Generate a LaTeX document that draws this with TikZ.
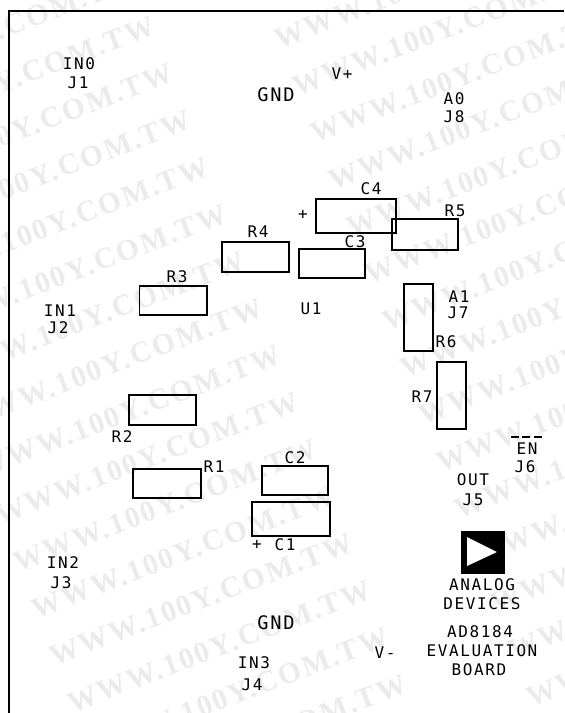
\documentclass[tikz,border=0pt]{standalone}
\usepackage{fontspec}
\setmonofont{DejaVu Sans Mono}[LetterSpace=10]
\newfontfamily\stampfont{Liberation Serif}[LetterSpace=7]
\tikzset{
  part/.style={draw, line width=1.3pt},
  lbl/.style={font=\ttfamily\fontsize{12}{12}\selectfont, inner sep=0pt},
  biglbl/.style={font=\ttfamily\fontsize{14}{14}\selectfont, inner sep=0pt},
  stamp/.style={font=\stampfont\bfseries\fontsize{22.2}{22.2}\selectfont, text=black!8, inner sep=0pt, anchor=north east, rotate=21}
}
\begin{document}
\begin{tikzpicture}[x=0.75pt,y=-0.75pt]

\useasboundingbox (0,0) rectangle (564,713);

%% Background stamp
\foreach \row in {-1,...,14} {
  \node [stamp] at ({150+18*\row},{15+47*\row}) {WWW.100Y.COM.TW};
}
\foreach \row in {0,...,17} {
  \node [stamp] at ({555+18*\row},{-132+47*\row}) {WWW.100Y.COM.TW};
}

%% Board outline
\draw [line width=1pt] (9,713) -- (9,11) -- (564,11);

%% Resistors
\draw [part] (222,242) rectangle (289,272);
\draw [part] (139.5,286) rectangle (207,315);
\draw [part] (392,219) rectangle (458,250);
\draw [part] (404,284) rectangle (433,351);
\draw [part] (437,362) rectangle (466,429);
\draw [part] (129,395) rectangle (196,425);
\draw [part] (133,469) rectangle (201,498);

%% Capacitors
\draw [part] (316,199) rectangle (396,233);
\draw [part] (299,249) rectangle (365,278);
\draw [part] (262,466) rectangle (328,495);
\draw [part] (252,502) rectangle (330,536);

%% Logo
\fill (461,531) rectangle (505,574);
\fill [white] (467,537) -- (497,552) -- (467,566) -- cycle;

%% Part labels
\node [lbl] at (258,232) {R4};
\node [lbl] at (177,277) {R3};
\node [lbl] at (455,211) {R5};
\node [lbl] at (446,342) {R6};
\node [lbl] at (422,397) {R7};
\node [lbl] at (122,437) {R2};
\node [lbl] at (214,467) {R1};
\node [lbl] at (371,189) {C4};
\node [lbl] at (355,242) {C3};
\node [lbl] at (295,458) {C2};
\node [lbl] at (285,545) {C1};
\node [lbl] at (303,215) {+};
\node [lbl] at (257,545) {+};
\node [lbl] at (311,309) {U1};

%% Connectors
\node [lbl] at (79,64) {IN0};
\node [lbl] at (78,83) {J1};
\node [lbl] at (60,311) {IN1};
\node [lbl] at (58,328) {J2};
\node [lbl] at (63,563) {IN2};
\node [lbl] at (61,583) {J3};
\node [lbl] at (254,663) {IN3};
\node [lbl] at (252,685) {J4};
\node [lbl] at (473,480) {OUT};
\node [lbl] at (473,500) {J5};
\node [lbl] at (527,449) {EN};
\node [lbl] at (525,467) {J6};
\node [lbl] at (459,297) {A1};
\node [lbl] at (458,313) {J7};
\node [lbl] at (454,99) {A0};
\node [lbl] at (454,117) {J8};
\draw [line width=0.8pt, dash pattern=on 6pt off 2.5pt] (511,437) -- (542,437);

%% Supplies
\node [biglbl] at (276,95) {GND};
\node [biglbl] at (276,623) {GND};
\node [lbl] at (342,74) {V+};
\node [lbl] at (385,653) {V-};

%% Board title
\node [lbl] at (482,585) {ANALOG};
\node [lbl] at (482,604) {DEVICES};
\node [lbl] at (480,632) {AD8184};
\node [lbl] at (482,651) {EVALUATION};
\node [lbl] at (479,670) {BOARD};

\end{tikzpicture}
\end{document}
